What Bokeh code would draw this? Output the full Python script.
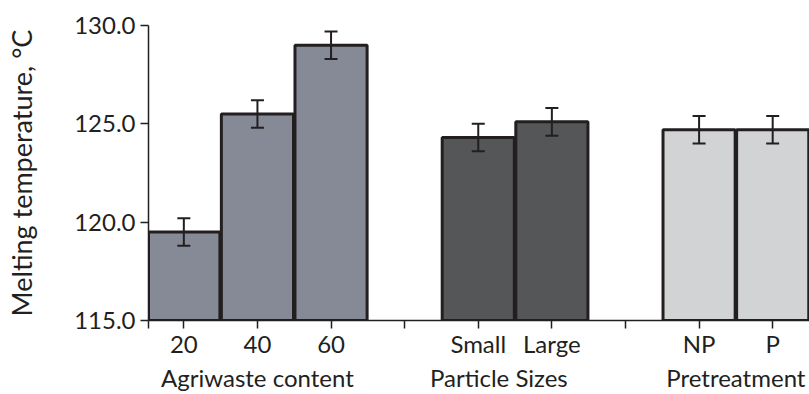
from bokeh.plotting import figure
from bokeh.models import ColumnDataSource, FixedTicker, LinearAxis, Whisker, Range1d
from bokeh.embed import file_html
from bokeh.resources import INLINE

# ---- data ----
categories = ["20", "40", "60", "Small", "Large", "NP", "P"]
groups = ["Agriwaste content", "Agriwaste content", "Agriwaste content",
          "Particle Sizes", "Particle Sizes", "Pretreatment", "Pretreatment"]
group_names = ["Agriwaste content", "Particle Sizes", "Pretreatment"]
melting_temp = [119.5, 125.5, 129.0, 124.3, 125.1, 124.7, 124.7]
errors = [0.7, 0.7, 0.7, 0.7, 0.7, 0.7, 0.7]
y_ticks = [115.0, 120.0, 125.0, 130.0]

group_colors = {"Agriwaste content": "#868a96",
                "Particle Sizes": "#545658",
                "Pretreatment": "#d1d3d4"}
group_label_shift = {"Agriwaste content": 0.0, "Particle Sizes": -0.22, "Pretreatment": 0.0}

# positions: one slot per bar, plus an empty slot between groups
xs = []
sep_ticks = []
pos = 0
prev = None
for g in groups:
    if prev is not None and g != prev:
        sep_ticks.append(pos)
        pos += 1
    xs.append(pos)
    pos += 1
    prev = g

src = ColumnDataSource(dict(
    x=xs, top=melting_temp,
    upper=[m + e for m, e in zip(melting_temp, errors)],
    lower=[m - e for m, e in zip(melting_temp, errors)],
    color=[group_colors[g] for g in groups],
))

x_start = -0.48
x_end = xs[-1] + 0.5
p = figure(width=809, height=394, output_backend="svg", toolbar_location=None,
           x_range=Range1d(x_start, x_end), y_range=Range1d(115, 130),
           min_border_left=148, min_border_right=0, min_border_top=25,
           min_border_bottom=73, x_axis_type=None)
p.outline_line_color = None
p.grid.visible = False
p.background_fill_color = "white"
p.border_fill_color = "white"

p.vbar(x="x", top="top", bottom=115, width=0.98, source=src,
       fill_color="color", line_color="#231f20", line_width=3)

w = Whisker(base="x", upper="upper", lower="lower", source=src,
            line_color="#231f20", line_width=2, level="overlay")
for h in (w.upper_head, w.lower_head):
    h.size = 13
    h.line_color = "#231f20"
    h.line_width = 2
p.add_layout(w)

FONT = "Lato"
AX = "#231f20"

# y axis
ya = p.yaxis[0]
ya.ticker = FixedTicker(ticks=y_ticks)
ya.major_label_overrides = {t: f"{t:.1f}" for t in y_ticks}
ya.minor_tick_line_color = None
ya.major_tick_in = 0
ya.major_tick_out = 8
ya.major_tick_line_width = 1.5
ya.axis_line_width = 1.5
ya.axis_line_color = AX
ya.major_tick_line_color = AX
ya.major_label_text_font = FONT
ya.major_label_text_font_size = "24px"
ya.major_label_text_color = AX
ya.major_label_standoff = 5
ya.axis_label = "Melting temperature, °C"
ya.axis_label_text_font = FONT
ya.axis_label_text_font_size = "27px"
ya.axis_label_text_font_style = "normal"
ya.axis_label_text_color = AX
ya.axis_label_standoff = 33

# x axis with category labels
cat_ticks = [x_start] + xs + sep_ticks
overrides = {x_start: ""}
for t in sep_ticks:
    overrides[t] = ""
for x, c in zip(xs, categories):
    overrides[x] = c
xa = LinearAxis(ticker=FixedTicker(ticks=cat_ticks), major_label_overrides=overrides,
                axis_line_color=AX, axis_line_width=1.5,
                major_tick_line_color=AX, major_tick_line_width=1.5,
                major_tick_in=0, major_tick_out=8, minor_tick_line_color=None,
                major_label_text_font=FONT, major_label_text_font_size="24px",
                major_label_text_color=AX, major_label_standoff=0)
p.add_layout(xa, "below")

# second x axis with group labels
gpos = []
for gname in group_names:
    members = [x for x, g in zip(xs, groups) if g == gname]
    gpos.append(sum(members) / len(members) + group_label_shift[gname])
ga = LinearAxis(ticker=FixedTicker(ticks=gpos),
                major_label_overrides={gp: gn for gp, gn in zip(gpos, group_names)},
                axis_line_color=None, major_tick_line_color=None,
                major_tick_in=0, major_tick_out=0,
                minor_tick_line_color=None,
                major_label_text_font=FONT, major_label_text_font_size="24px",
                major_label_text_color=AX, major_label_standoff=2)
p.add_layout(ga, "below")

open("out.html", "w").write(file_html(p, INLINE))
